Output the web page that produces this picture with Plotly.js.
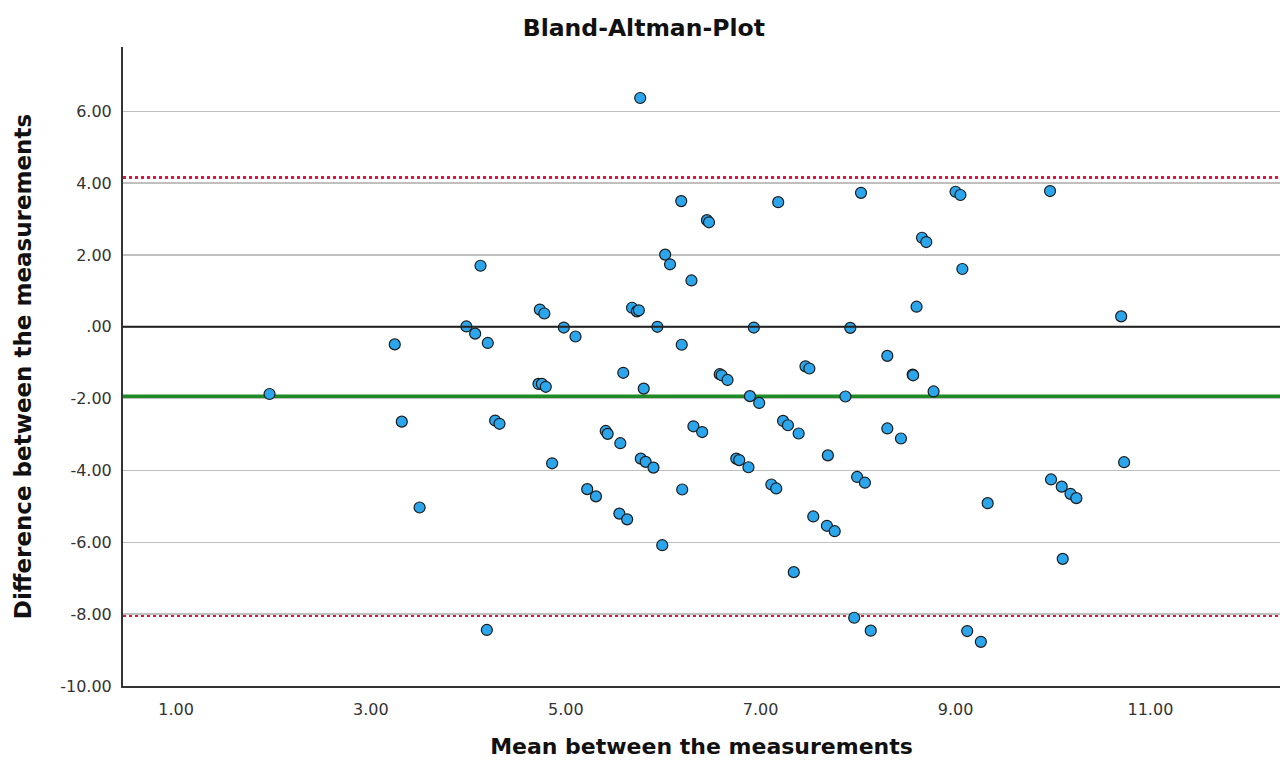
<!DOCTYPE html>
<html><head><meta charset="utf-8">
<script src="https://cdn.plot.ly/plotly-3.0.1.min.js"></script>
<style>html,body{margin:0;padding:0;background:#fff}#chart{width:1280px;height:760px}</style>
</head><body><div id="chart"></div>
<script>
// Mean between the measurements (x) and difference (y)
const meanVals = [1.96,3.245,3.317,3.50,3.98,4.07,4.125,4.19,4.20,4.275,4.32,4.72,4.734,4.755,4.78,4.795,4.86,4.98,5.10,5.22,5.31,5.41,5.43,5.55,5.56,5.59,5.63,5.68,5.73,5.75,5.764,5.77,5.80,5.82,5.90,5.94,5.99,6.02,6.07,6.185,6.19,6.195,6.29,6.31,6.40,6.449,6.47,6.58,6.60,6.66,6.75,6.78,6.875,6.89,6.93,6.985,7.11,7.16,7.18,7.23,7.28,7.34,7.39,7.46,7.50,7.54,7.68,7.69,7.76,7.87,7.92,7.96,7.99,8.03,8.07,8.13,8.30,8.30,8.44,8.56,8.565,8.60,8.656,8.70,8.775,9.00,9.05,9.07,9.12,9.26,9.33,9.97,9.98,10.09,10.10,10.18,10.24,10.70,10.73];
const diffVals = [-1.87,-0.49,-2.64,-5.03,0.01,-0.19,1.70,-8.44,-0.45,-2.61,-2.70,-1.59,0.48,-1.59,0.37,-1.67,-3.80,-0.02,-0.27,-4.52,-4.72,-2.90,-2.98,-5.20,-3.24,-1.28,-5.36,0.53,0.43,0.46,6.37,-3.67,-1.72,-3.76,-3.92,0.00,-6.08,2.01,1.74,3.50,-0.50,-4.53,1.29,-2.77,-2.93,2.97,2.91,-1.32,-1.35,-1.48,-3.67,-3.71,-3.91,-1.93,-0.02,-2.12,-4.39,-4.50,3.47,-2.62,-2.74,-6.83,-2.97,-1.10,-1.16,-5.28,-5.54,-3.58,-5.69,-1.94,-0.03,-8.10,-4.18,3.73,-4.34,-8.46,-0.81,-2.83,-3.11,-1.33,-1.35,0.56,2.48,2.36,-1.80,3.76,3.67,1.61,-8.47,-8.77,-4.91,3.78,-4.25,-4.45,-6.46,-4.65,-4.77,0.29,-3.77];

const meanDiff = -1.94;
const upperLoA = 4.16;
const lowerLoA = -8.04;
const zeroLine = 0;

const xTickVals = [1,3,5,7,9,11];
const xTickText = ['1.00','3.00','5.00','7.00','9.00','11.00'];
const yTickVals = [6,4,2,0,-2,-4,-6,-8,-10];
const yTickText = ['6.00','4.00','2.00','.00','-2.00','-4.00','-6.00','-8.00','-10.00'];

const font = '"DejaVu Sans", sans-serif';

const trace = {
  x: meanVals, y: diffVals, type: 'scatter', mode: 'markers',
  marker: {size: 11, color: '#2ba6ec', line: {color: '#1b1b1b', width: 1.2}},
  cliponaxis: false, hoverinfo: 'x+y'
};

function hline(y, color, width, dash, layer) {
  return {type: 'line', xref: 'paper', x0: 0, x1: 1, yref: 'y', y0: y, y1: y,
          line: {color: color, width: width, dash: dash}, layer: layer};
}

const layout = {
  width: 1280, height: 760,
  margin: {l: 123, r: 0, t: 47, b: 74},
  paper_bgcolor: '#fff', plot_bgcolor: '#fff',
  showlegend: false,
  font: {family: font, color: '#333'},
  title: {text: '<b>Bland-Altman-Plot</b>', x: 0.503, xref: 'container', y: 0.963, yref: 'container',
          yanchor: 'middle', font: {family: font, size: 23.5, color: '#111'}},
  xaxis: {
    range: [0.456, 12.33], tickvals: xTickVals, ticktext: xTickText,
    showgrid: false, zeroline: false, showline: true, linecolor: '#333', linewidth: 2,
    ticks: '', ticklabelstandoff: 8, tickfont: {size: 16, color: '#333', family: font},
    title: {text: '<b>Mean between the measurements</b>', standoff: 20,
            font: {size: 22, color: '#111', family: font}}
  },
  yaxis: {
    range: [-10, 7.79], tickvals: yTickVals, ticktext: yTickText,
    showgrid: true, gridcolor: '#bfbfbf', gridwidth: 1.5,
    zeroline: false, showline: true, linecolor: '#333', linewidth: 2,
    ticks: '', ticklabelstandoff: 6, tickfont: {size: 16, color: '#333', family: font},
    title: {text: '<b>Difference between the measurements</b>', standoff: 22,
            font: {size: 23, color: '#111', family: font}}
  },
  shapes: [
    hline(zeroLine, '#222', 2, 'solid', 'above'),
    hline(meanDiff, '#1f8a26', 4, 'solid', 'below'),
    hline(upperLoA, '#e0143c', 3, 'dot', 'below'),
    hline(lowerLoA, '#e0143c', 3, 'dot', 'below')
  ]
};

Plotly.newPlot('chart', [trace], layout, {displayModeBar: false, staticPlot: true});
</script></body></html>
